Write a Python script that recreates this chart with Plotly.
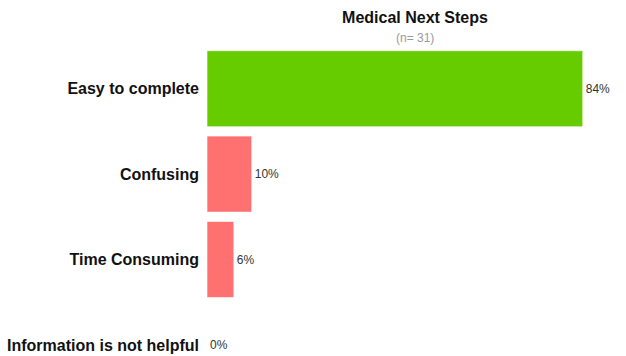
import plotly.graph_objects as go

categories = ["Easy to complete", "Confusing", "Time Consuming", "Information is not helpful"]
values = [84, 10, 6, 0]
colors = ["#66CC00", "#FF7070", "#FF7070", "#FF7070"]
labels = [f"{v}%" for v in values]

W, H = 626, 356
T = 46
PH = H - T
fig = go.Figure(go.Bar(
    x=values, y=categories, orientation="h",
    marker=dict(color=colors, line=dict(color="rgba(255,255,255,0.6)", width=1)),
    width=0.89,
    text=labels, textposition="outside", cliponaxis=False,
    textfont=dict(family="Liberation Sans, Arial", size=12, color="#333333"),
))
fig.update_layout(
    width=W, height=H,
    margin=dict(l=207, r=3, t=T, b=0),
    paper_bgcolor="white", plot_bgcolor="white",
    showlegend=False,
    title=dict(text="<b>Medical Next Steps</b>", x=0.5, xref="paper", xanchor="center",
               y=1 - 17 / H, yanchor="middle",
               font=dict(family="Liberation Sans, Arial", size=16, color="#111111")),
    annotations=[dict(text="(n= 31)", x=0.5, xref="paper", xanchor="center",
                      y=1 + (T - 38) / PH, yref="paper", yanchor="middle", showarrow=False,
                      font=dict(family="Liberation Sans, Arial", size=12, color="#999999"))],
    xaxis=dict(range=[0, 93], visible=False, showgrid=False, zeroline=False),
    yaxis=dict(range=[3.13, -0.5], showgrid=False, zeroline=False, showline=False,
               ticks="", ticklabelstandoff=7,
               tickfont=dict(family="Liberation Sans, Arial", size=16, color="#111111")),
    font=dict(family="Liberation Sans, Arial"),
)
fig.update_yaxes(tickprefix="<b>", ticksuffix="</b>")
fig.write_html("out.html")
